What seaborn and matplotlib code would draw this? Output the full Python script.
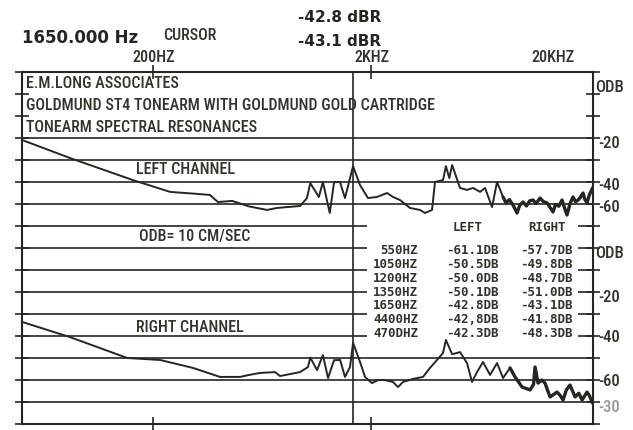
import numpy as np
import matplotlib.pyplot as plt
import seaborn as sns
from matplotlib.patches import Rectangle

sns.set_theme(style="white")

# Left channel spectrum (Hz, dB re 0DB at top of upper panel)
left_freq = [50, 83, 161, 239, 328, 364, 396, 460, 550, 665, 739, 943, 1014, 1050,
             1150, 1200, 1290, 1350, 1437, 1515, 1650, 1776, 1932, 2125, 2362, 2516,
             2709, 3011, 3347, 3528, 3799, 3921, 4267, 4400, 4560, 4700, 5106, 5498,
             5861, 6311, 6651, 7161, 7549, 8043, 8300, 8600, 8941, 9100, 9327, 9600,
             9934, 10300, 10650, 11040, 11400, 11890, 12300, 12800, 13200, 13640,
             14000, 14500, 15000, 15400, 15810, 16300, 16850, 17300, 17760, 18200,
             18720, 19100, 19530, 20000, 20700]
left_db = [-30.9, -39.1, -49.1, -54.5, -55.5, -55.9, -59.1, -58.6, -61.1, -62.7, -61.8,
           -60.9, -57.3, -50.5, -56.8, -50.0, -64.1, -50.1, -50.0, -57.3, -42.8, -51.4,
           -57.3, -56.8, -55.0, -56.8, -58.2, -61.8, -62.7, -64.1, -62.7, -50.0, -49.1,
           -42.8, -48.2, -42.3, -52.7, -53.6, -52.7, -54.5, -52.7, -61.4, -50.0, -56.8,
           -59.5, -58.0, -60.5, -62.0, -64.1, -60.5, -59.1, -60.9, -58.6, -58.2, -59.8,
           -57.3, -58.9, -59.5, -61.5, -63.6, -60.2, -61.0, -58.2, -61.8, -65.0, -60.0,
           -56.8, -59.0, -58.2, -57.0, -55.0, -58.0, -59.5, -56.0, -52.7]

# Right channel spectrum (Hz, dB re 0DB at top of lower panel)
right_freq = [50, 83, 152, 215, 304, 405, 500, 550, 618, 724, 763, 943, 1025, 1050,
              1128, 1200, 1267, 1350, 1440, 1515, 1598, 1650, 1776, 1872, 2016, 2148,
              2300, 2516, 2653, 2797, 3108, 3454, 3719, 4006, 4267, 4400, 4700, 5106,
              5498, 5796, 6111, 6510, 7012, 7549, 8043, 8659, 9130, 9834, 10700, 11100,
              11280, 11640, 12100, 12530, 13210, 14230, 14700, 15160, 15700, 16320,
              17210, 17900, 18530, 19530, 20000, 20700]
right_db = [-33.6, -40.5, -50.0, -50.9, -54.5, -58.6, -58.6, -57.7, -56.8, -56.4, -58.2,
            -56.4, -54.1, -49.8, -55.5, -48.7, -59.1, -51.0, -50.9, -58.6, -54.1, -43.1,
            -51.8, -58.6, -61.4, -60.0, -60.0, -60.9, -63.2, -60.9, -59.5, -58.6, -54.5,
            -50.9, -47.7, -41.8, -48.3, -47.3, -52.3, -60.9, -56.4, -51.8, -57.7, -52.3,
            -59.1, -54.5, -58.6, -63.2, -64.5, -62.0, -54.1, -61.4, -60.0, -61.4, -67.7,
            -65.5, -67.0, -69.1, -64.5, -62.3, -67.7, -66.0, -69.1, -65.5, -67.0, -70.5]

cursor_hz = 1650
cursor_left = "-42.8 dBR"
cursor_right = "-43.1 dBR"

table_freq = ["550HZ", "1050HZ", "1200HZ", "1350HZ", "1650HZ", "4400HZ", "470DHZ"]
table_left = ["-61.1DB", "-50.5DB", "-50.0DB", "-50.1DB", "-42.8DB", "-42,8DB", "-42.3DB"]
table_right = ["-57.7DB", "-49.8DB", "-48.7DB", "-51.0DB", "-43.1DB", "-41.8DB", "-48.3DB"]

title_lines = ["E.M.LONG ASSOCIATES",
               "GOLDMUND ST4 TONEARM WITH GOLDMUND GOLD CARTRIDGE",
               "TONEARM SPECTRAL RESONANCES"]
freq_labels = ["200HZ", "2KHZ", "20KHZ"]
right_scale = ["ODB", "-20", "-40", "-60", "ODB", "-20", "-40", "-60", "-30"]

ink = "#262620"
txt = "#33332a"
# narrow lettering of the pen plotter
pen = dict(family=["Roboto Condensed", "Roboto", "DejaVu Sans"], fontsize=11.5,
           fontweight="medium", color=txt)
mono = dict(family="DejaVu Sans Mono", fontweight="bold", fontsize=9, color=txt)
W, H = 633, 430


def fx(x):
    return x / W


def fy(y):
    return 1 - y / H


fig = plt.figure(figsize=(6.33, 4.30), dpi=100)
fig.patch.set_facecolor("white")
ax = fig.add_axes([fx(22), fy(424), (593 - 22) / W, (424 - 72) / H])
ax.set_xscale("log")
ax.set_xlim(50, 20800)
ax.set_ylim(-160, 0)

# grid lines (top two hidden behind the title block)
for lvl in range(-30, -160, -10):
    ax.axhline(lvl, color=ink, lw=1.2, zorder=1)

# blank area behind the readout table
ax.add_patch(Rectangle((fx(367), fy(340)), (578 - 367) / W, (340 - 219) / H,
                       transform=fig.transFigure, facecolor="white",
                       edgecolor="none", zorder=2))
ax.axvline(cursor_hz, color=ink, lw=1.2, zorder=2.5)

lf = np.array(left_freq)
ld = np.array(left_db)
rf = np.array(right_freq)
rd = np.array(right_db) - 80

sns.lineplot(x=lf, y=ld, ax=ax, color=ink, lw=1.4, estimator=None, sort=False, zorder=3)
sns.lineplot(x=rf, y=rd, ax=ax, color=ink, lw=1.4, estimator=None, sort=False, zorder=3)
# the high end is drawn heavy on the plotter
m = lf >= 8000
sns.lineplot(x=lf[m], y=ld[m], ax=ax, color=ink, lw=2.4, estimator=None, sort=False, zorder=3)
m = rf >= 8600
sns.lineplot(x=rf[m], y=rd[m], ax=ax, color=ink, lw=2.4, estimator=None, sort=False, zorder=3)

ax.set_xlabel("")
ax.set_ylabel("")
ax.set_yticks(range(-160, 1, 10))
ax.set_xticks([200, 2000])
ax.xaxis.set_minor_locator(plt.NullLocator())
ax.tick_params(axis="y", which="both", left=True, right=True, direction="inout",
               length=10, width=1.2, color=ink, labelleft=False, labelright=False)
ax.tick_params(axis="x", which="both", top=True, bottom=True, direction="inout",
               length=10, width=1.2, color=ink, labelbottom=False, labeltop=False)
for s in ax.spines.values():
    s.set_color(ink)
    s.set_linewidth(1.5)

# cursor readout
fig.text(fx(22), fy(38), "1650.000 Hz", fontsize=12, fontweight="bold",
         color=ink, va="center", ha="left")
fig.text(fx(163), fy(36), "CURSOR", va="center", ha="left", **pen)
fig.text(fx(298), fy(17), cursor_left, fontsize=11, fontweight="bold", color=ink,
         va="center", ha="left")
fig.text(fx(298), fy(42), cursor_right, fontsize=11, fontweight="bold", color=ink,
         va="center", ha="left")

# frequency markers
for lab, x in zip(freq_labels, [154, 372, 553]):
    fig.text(fx(x), fy(58), lab, ha="center", va="center", **pen)

# title block
for lab, y in zip(title_lines, [83, 106, 127]):
    fig.text(fx(26), fy(y), lab, ha="left", va="center", zorder=5, **pen)

fig.text(fx(185), fy(170), "LEFT CHANNEL", ha="center", va="center", **pen)
fig.text(fx(195), fy(237), "ODB= 10 CM/SEC", ha="center", va="center", **pen)
fig.text(fx(190), fy(328), "RIGHT CHANNEL", ha="center", va="center", **pen)

# right-hand scale
for lab, y in zip(right_scale, [87, 143, 186, 207, 253, 297, 337, 381, 408]):
    style = dict(pen, fontsize=12)
    if lab == "-30":
        style["color"] = "#9a9a90"
    fig.text(fx(609), fy(y), lab, ha="center", va="center", **style)

# readout table
fig.text(fx(468), fy(228), "LEFT", ha="center", va="center", **mono)
fig.text(fx(547), fy(228), "RIGHT", ha="center", va="center", **mono)
for i, (f, l, r) in enumerate(zip(table_freq, table_left, table_right)):
    y = 251 + i * 13.7
    fig.text(fx(418), fy(y), f, ha="right", va="center", **mono)
    fig.text(fx(472), fy(y), l, ha="center", va="center", **mono)
    fig.text(fx(546), fy(y), r, ha="center", va="center", **mono)

fig.savefig("out.png", dpi=100, facecolor="white")
